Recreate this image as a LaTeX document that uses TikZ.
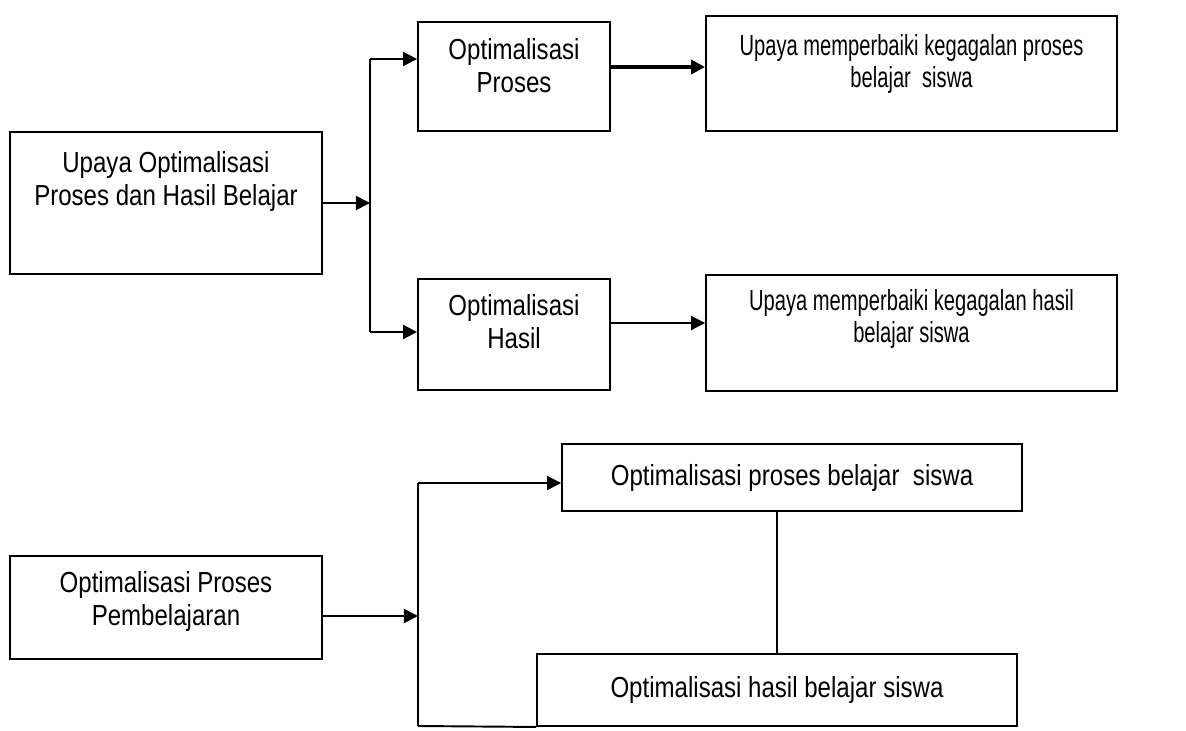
\documentclass[tikz,border=0pt]{standalone}
\usepackage{fontspec}
\setmainfont{Liberation Sans}[FakeStretch=0.83]
\newfontfamily\narrowsans{Liberation Sans}[FakeStretch=0.695]
\usetikzlibrary{positioning,arrows.meta}
\tikzset{
  box/.style={draw,line width=1.1pt,inner sep=0pt},
  boxtext/.style={align=center,inner sep=0pt,font=\fontsize{16.5pt}{19pt}\selectfont},
  widetext/.style={boxtext,font=\narrowsans\fontsize{16.5pt}{18pt}\selectfont},
  arr/.style={line width=1.1pt,-{Triangle[length=8pt,width=8pt]}},
  link/.style={line width=1.1pt}
}

\begin{document}
\begin{tikzpicture}[x=0.02cm,y=-0.02cm]
    \useasboundingbox (0,0) rectangle (1186,730);

    % upper chart
    \node[box,minimum width=6.24cm,minimum height=2.84cm] (upaya) at (166,203) {};
    \node[boxtext,below=0.4cm of upaya.north] (upayatext)
      {Upaya Optimalisasi\\Proses dan Hasil Belajar};
    \node[box,minimum width=3.84cm,minimum height=2.18cm] (proses) at (514,76.5) {};
    \node[boxtext,below=0.34cm of proses.north] (prosestext) {Optimalisasi\\Proses};
    \node[box,minimum width=8.22cm,minimum height=2.30cm] (gagalproses) at (911.5,73.5) {};
    \node[widetext,below=0.38cm of gagalproses.north] (gagalprosestext)
      {Upaya memperbaiki kegagalan proses\\belajar~ siswa};
    \node[box,minimum width=3.84cm,minimum height=2.22cm] (hasil) at (514,334.5) {};
    \node[boxtext,below=0.32cm of hasil.north] (hasiltext) {Optimalisasi\\Hasil};
    \node[box,minimum width=8.22cm,minimum height=2.32cm] (gagalhasil) at (911.5,333) {};
    \node[widetext,below=0.3cm of gagalhasil.north] (gagalhasiltext)
      {Upaya memperbaiki kegagalan hasil\\belajar siswa};

    \coordinate (fork1) at (370,203);
    \coordinate (fork1top) at (370,59);
    \coordinate (fork1bot) at (370,332);
    \draw[arr] (upaya.east) -- (fork1);
    \draw[link] (fork1top) -- (fork1bot);
    \draw[arr] (fork1top) -- (fork1top -| proses.west);
    \draw[arr] (fork1bot) -- (fork1bot -| hasil.west);
    \draw[arr,line width=2pt] ([yshift=0.19cm]proses.east) -- ([yshift=0.19cm]proses.east -| gagalproses.west);
    \draw[arr] ([yshift=0.23cm]hasil.east) -- ([yshift=0.23cm]hasil.east -| gagalhasil.west);

    % lower chart
    \node[box,minimum width=6.24cm,minimum height=2.06cm] (pembelajaran) at (166,607.5) {};
    \node[boxtext,below=0.32cm of pembelajaran.north] (pembelajarantext)
      {Optimalisasi Proses\\Pembelajaran};
    \node[box,boxtext,minimum width=9.2cm,minimum height=1.34cm] (prosesbelajar) at (792,477.5)
      {Optimalisasi proses belajar~ siswa};
    \node[box,boxtext,fill=white,minimum width=9.6cm,minimum height=1.44cm] (hasilbelajar) at (777,690)
      {Optimalisasi hasil belajar siswa};

    \coordinate (fork2) at (418,616);
    \coordinate (fork2top) at (418,483);
    \coordinate (fork2bot) at (418,726);
    \draw[arr] ([yshift=-0.17cm]pembelajaran.east) -- (fork2);
    \draw[link] (fork2top) -- (fork2bot);
    \draw[arr] (fork2top) -- (fork2top -| prosesbelajar.west);
    \draw[link] (fork2bot) -- (hasilbelajar.south west);
    \draw[link] (hasilbelajar.north |- prosesbelajar.south) -- (hasilbelajar.north);
\end{tikzpicture}
\end{document}
